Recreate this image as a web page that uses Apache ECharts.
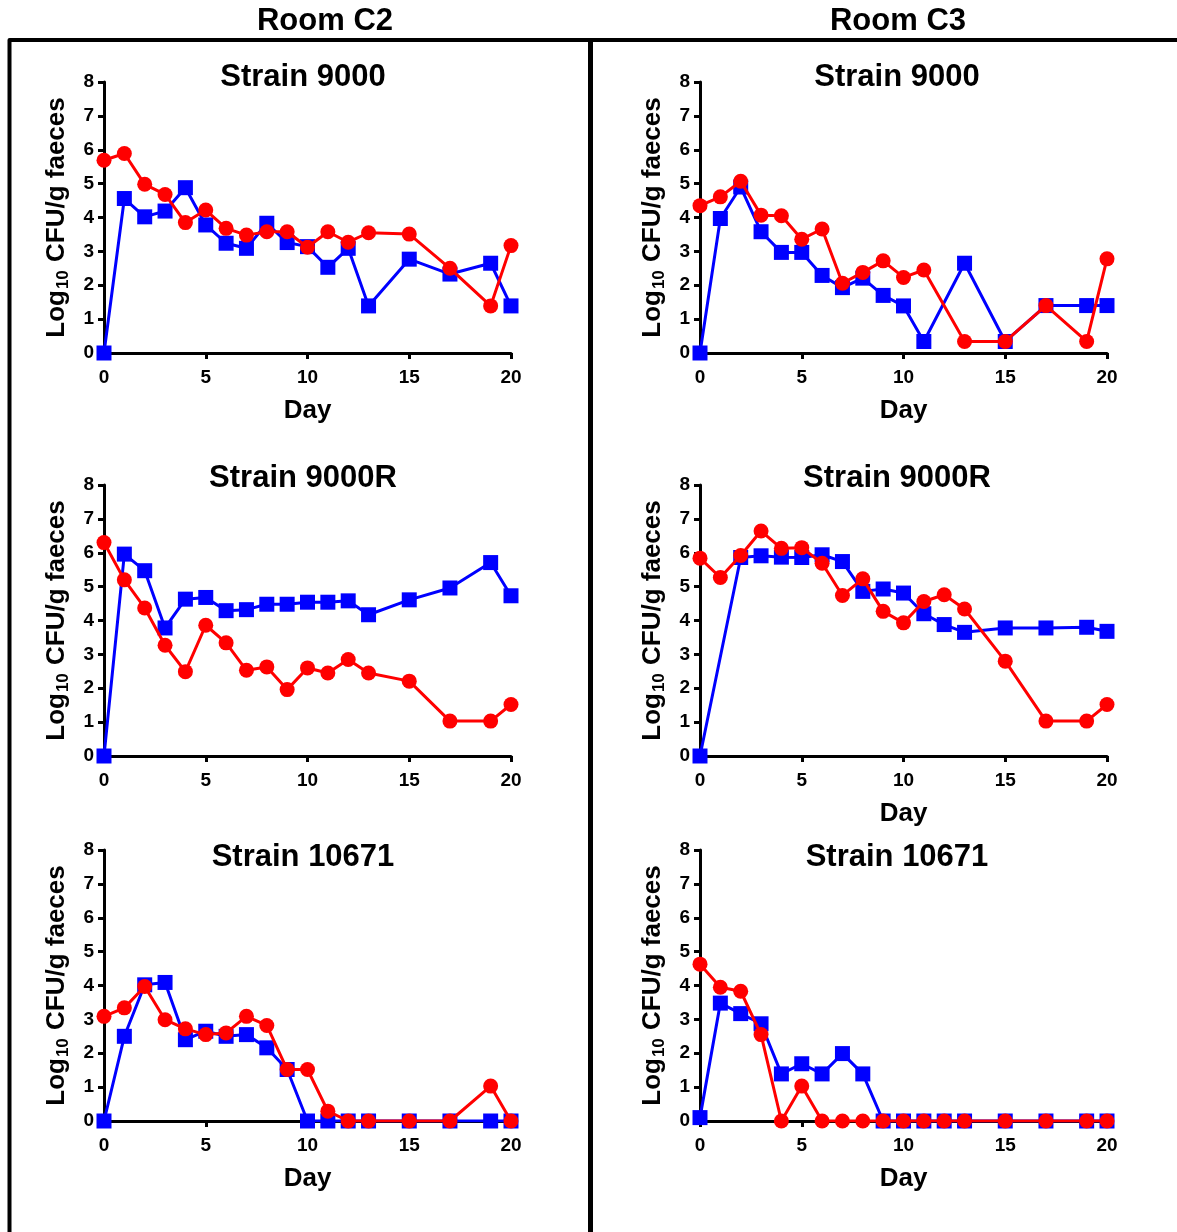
<!DOCTYPE html>
<html>
<head>
<meta charset="utf-8">
<title>Faecal shedding by room and strain</title>
<script src="https://cdn.jsdelivr.net/npm/echarts@6/dist/echarts.min.js"></script>
<style>
  html, body { margin: 0; padding: 0; background: #fff; }
  #chart { width: 1177px; height: 1232px; }
</style>
</head>
<body>
<div id="chart"></div>
<script>
// Sampling days (some panels skip a day)
const DAYS = [0, 1, 2, 3, 4, 5, 6, 7, 8, 9, 10, 11, 12, 13, 15, 17, 19, 20];
const DAYS_NO12 = [0, 1, 2, 3, 4, 5, 6, 7, 8, 9, 10, 11, 13, 15, 17, 19, 20];
const DAYS_NO1 = [0, 2, 3, 4, 5, 6, 7, 8, 9, 10, 11, 12, 13, 15, 17, 19, 20];

const ROOMS = ['Room C2', 'Room C3'];
const STRAINS = ['Strain 9000', 'Strain 9000R', 'Strain 10671'];
const X_TICKS = [0, 5, 10, 15, 20];
const Y_TICKS = [0, 1, 2, 3, 4, 5, 6, 7, 8];

// Room C2, strain 9000
const c2s9000Blue = [0, 4.56, 4.02, 4.19, 4.88, 3.78, 3.24, 3.09, 3.83, 3.26, 3.14, 2.53, 3.09, 1.39, 2.77, 2.33, 2.65, 1.39];
const c2s9000Red  = [5.69, 5.89, 4.98, 4.68, 3.85, 4.22, 3.68, 3.48, 3.58, 3.58, 3.12, 3.58, 3.27, 3.55, 3.51, 2.50, 1.39, 3.17];
// Room C3, strain 9000
const c3s9000Blue = [0, 3.97, 4.90, 3.58, 2.97, 2.97, 2.29, 1.93, 2.21, 1.70, 1.39, 0.34, 2.65, 0.34, 1.40, 1.40, 1.40];
const c3s9000Red  = [4.35, 4.61, 5.07, 4.07, 4.05, 3.36, 3.66, 2.06, 2.38, 2.72, 2.23, 2.45, 0.34, 0.34, 1.40, 0.34, 2.78];
// Room C2, strain 9000R
const c2s9000RBlue = [0, 5.96, 5.47, 3.78, 4.63, 4.68, 4.29, 4.32, 4.48, 4.48, 4.54, 4.54, 4.58, 4.17, 4.61, 4.96, 5.71, 4.73];
const c2s9000RRed  = [6.30, 5.20, 4.37, 3.27, 2.49, 3.86, 3.34, 2.53, 2.63, 1.96, 2.60, 2.45, 2.85, 2.45, 2.21, 1.03, 1.03, 1.52];
// Room C3, strain 9000R
const c3s9000RBlue = [0, 5.86, 5.91, 5.87, 5.86, 5.94, 5.74, 4.86, 4.93, 4.81, 4.20, 3.88, 3.65, 3.78, 3.78, 3.80, 3.68];
const c3s9000RRed  = [5.84, 5.27, 5.92, 6.64, 6.13, 6.15, 5.69, 4.74, 5.23, 4.27, 3.93, 4.56, 4.76, 4.34, 2.80, 1.03, 1.03, 1.52];
// Room C2, strain 10671
const c2s10671Blue = [0, 2.50, 4.02, 4.09, 2.40, 2.65, 2.50, 2.55, 2.16, 1.52, 0, 0, 0, 0, 0, 0, 0, 0];
const c2s10671Red  = [3.09, 3.34, 3.97, 2.99, 2.72, 2.55, 2.60, 3.09, 2.82, 1.52, 1.52, 0.29, 0, 0, 0, 0, 1.03, 0];
// Room C3, strain 10671
const c3s10671Blue = [0.10, 3.48, 3.17, 2.87, 1.39, 1.69, 1.39, 1.99, 1.39, 0, 0, 0, 0, 0, 0, 0, 0, 0];
const c3s10671Red  = [4.63, 3.95, 3.83, 2.55, 0, 1.03, 0, 0, 0, 0, 0, 0, 0, 0, 0, 0, 0, 0];

const FONT = '"Liberation Sans", Arial, Helvetica, sans-serif';
const NARROW = '"Liberation Sans Narrow", "Arial Narrow", ' + FONT;
const BLUE = '#0000ff';
const RED = '#ff0000';

function pairs(days, vals) {
  return days.map((d, i) => [d, vals[i]]);
}

// One entry per panel: column (room), row (strain), blue/red series
const panels = [
  { col: 0, row: 0, blue: pairs(DAYS, c2s9000Blue), red: pairs(DAYS, c2s9000Red), dayLabel: true },
  { col: 1, row: 0, blue: pairs(DAYS_NO12, c3s9000Blue), red: pairs(DAYS_NO12, c3s9000Red), dayLabel: true },
  { col: 0, row: 1, blue: pairs(DAYS, c2s9000RBlue), red: pairs(DAYS, c2s9000RRed), dayLabel: false },
  { col: 1, row: 1, blue: pairs(DAYS_NO1, c3s9000RBlue), red: pairs(DAYS, c3s9000RRed), dayLabel: true },
  { col: 0, row: 2, blue: pairs(DAYS, c2s10671Blue), red: pairs(DAYS, c2s10671Red), dayLabel: true },
  { col: 1, row: 2, blue: pairs(DAYS, c3s10671Blue), red: pairs(DAYS, c3s10671Red), dayLabel: true }
];

const colLeft = [104, 700];
const rowTop = [82, 485, 850];
const gridW = 407;
const gridH = 271;
const titleY = [77, 478, 857];
const titleX = [303, 897];

const grids = [], xAxes = [], yAxes = [], series = [], graphics = [];

panels.forEach((p, i) => {
  grids.push({
    left: colLeft[p.col], top: rowTop[p.row], width: gridW, height: gridH,
    containLabel: false
  });
  xAxes.push({
    type: 'value', gridIndex: i, min: X_TICKS[0], max: X_TICKS[X_TICKS.length - 1], interval: 5,
    name: p.dayLabel ? 'Day' : '', nameLocation: 'middle', nameGap: 45,
    nameTextStyle: { fontFamily: FONT, fontWeight: 'bold', fontSize: 26, color: '#000' },
    axisLine: { onZero: false, lineStyle: { color: '#000', width: 3 } },
    axisTick: { length: 6, lineStyle: { color: '#000', width: 3 } },
    axisLabel: { margin: 15, fontFamily: FONT, fontWeight: 'bold', fontSize: 19, color: '#000' },
    splitLine: { show: false }
  });
  yAxes.push({
    type: 'value', gridIndex: i, min: Y_TICKS[0], max: Y_TICKS[Y_TICKS.length - 1], interval: 1,
    name: '{a|Log}{s|10}{a| CFU/g faeces}', nameLocation: 'middle', nameGap: 32,
    nameTextStyle: {
      color: '#000',
      rich: {
        a: { fontFamily: FONT, fontWeight: 'bold', fontSize: 26, color: '#000', lineHeight: 30 },
        s: { fontFamily: FONT, fontWeight: 'bold', fontSize: 17, color: '#000', lineHeight: 30, padding: [12, 1, 0, 1] }
      }
    },
    axisLine: { show: true, onZero: false, lineStyle: { color: '#000', width: 3 } },
    axisTick: { show: true, length: 6, lineStyle: { color: '#000', width: 3 } },
    axisLabel: { margin: 10, fontFamily: FONT, fontWeight: 'bold', fontSize: 19, color: '#000' },
    splitLine: { show: false }
  });
  series.push({
    type: 'line', xAxisIndex: i, yAxisIndex: i, data: p.blue,
    symbol: 'rect', symbolSize: 15, showAllSymbol: true,
    lineStyle: { color: BLUE, width: 3 }, itemStyle: { color: BLUE },
    animation: false, z: 3
  });
  series.push({
    type: 'line', xAxisIndex: i, yAxisIndex: i, data: p.red,
    symbol: 'circle', symbolSize: 15, showAllSymbol: true,
    lineStyle: { color: RED, width: 3 }, itemStyle: { color: RED },
    animation: false, z: 4
  });
  // panel heading
  graphics.push({
    type: 'text', x: titleX[p.col], y: titleY[p.row], z: 10,
    style: { text: STRAINS[p.row], textAlign: 'center', textVerticalAlign: 'middle',
      fontFamily: FONT, fontWeight: 'bold', fontSize: 31, fill: '#000' }
  });
});

// outer frame around both room columns, and the room headings
graphics.push(
  { type: 'polyline', shape: { points: [[9.5, 1232], [9.5, 40], [1177, 40]] },
    style: { stroke: '#000', lineWidth: 4, fill: null, lineJoin: 'round' } },
  { type: 'line', shape: { x1: 590.5, y1: 40, x2: 590.5, y2: 1232 },
    style: { stroke: '#000', lineWidth: 5 } },
  { type: 'text', x: 325, y: 21, style: { text: ROOMS[0], textAlign: 'center', textVerticalAlign: 'middle',
    fontFamily: NARROW, fontWeight: 'bold', fontSize: 31, fill: '#000' } },
  { type: 'text', x: 898, y: 21, style: { text: ROOMS[1], textAlign: 'center', textVerticalAlign: 'middle',
    fontFamily: NARROW, fontWeight: 'bold', fontSize: 31, fill: '#000' } }
);

const chart = echarts.init(document.getElementById('chart'), null, { renderer: 'canvas' });
chart.setOption({
  backgroundColor: '#fff',
  animation: false,
  grid: grids,
  xAxis: xAxes,
  yAxis: yAxes,
  series: series,
  graphic: graphics
});
</script>
</body>
</html>
